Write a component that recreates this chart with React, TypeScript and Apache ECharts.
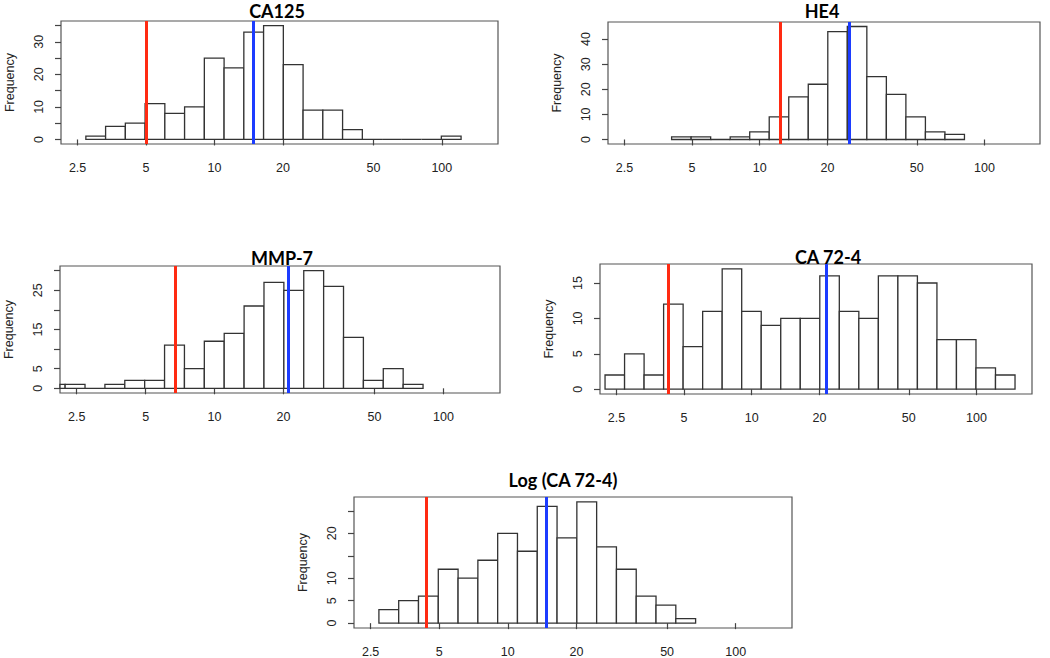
import React, { useEffect, useRef } from "react";
import * as echarts from "echarts";

// ---- data (bins are equal width in natural log: 0.2) ----
const xTickValues = [2.5, 5, 10, 20, 50, 100];
const binWidthLn = 0.2;

const ca125Title = "CA125";
const ca125FirstEdgeLn = 1.0;
const ca125Counts = [1, 4, 5, 11, 8, 10, 25, 22, 33, 35, 23, 9, 9, 3, 0, 0, 0, 0, 1];
const ca125Cutoffs = [5, 14.8];
const ca125YTicks = [0, 5, 10, 15, 20, 25, 30, 35];
const ca125YLabels = [0, 10, 20, 30];

const he4Title = "HE4";
const he4FirstEdgeLn = 1.4;
const he4Counts = [1, 1, 0, 1, 3, 9, 17, 22, 43, 45, 25, 18, 9, 3, 2];
const he4Cutoffs = [12.2, 25.1];
const he4YTicks = [0, 10, 20, 30, 40];
const he4YLabels = [0, 10, 20, 30, 40];

const mmp7Title = "MMP-7";
const mmp7FirstEdgeLn = 0.6;
const mmp7Counts = [1, 1, 0, 1, 2, 2, 11, 5, 12, 14, 21, 27, 25, 30, 26, 13, 2, 5, 1];
const mmp7Cutoffs = [6.7, 21.1];
const mmp7YTicks = [0, 5, 10, 15, 20, 25, 30];
const mmp7YLabels = [0, 5, 15, 25];

const ca724Title = "CA 72-4";
const ca724FirstEdgeLn = 0.8;
const ca724Counts = [2, 5, 2, 12, 6, 11, 17, 11, 9, 10, 10, 16, 11, 10, 16, 16, 15, 7, 7, 3, 2];
const ca724Cutoffs = [4.23, 21.5];
const ca724YTicks = [0, 5, 10, 15];
const ca724YLabels = [0, 5, 10, 15];

const logCa724Title = "Log (CA 72-4)";
const logCa724FirstEdgeLn = 1.0;
const logCa724Counts = [3, 5, 6, 12, 10, 14, 20, 16, 26, 19, 27, 17, 12, 6, 4, 1];
const logCa724Cutoffs = [4.37, 14.9];
const logCa724YTicks = [0, 5, 10, 15, 20, 25];
const logCa724YLabels = [0, 5, 10, 20];

const panels = [
  { title: ca125Title, first: ca125FirstEdgeLn, counts: ca125Counts, cut: ca125Cutoffs, yt: ca125YTicks, yl: ca125YLabels },
  { title: he4Title, first: he4FirstEdgeLn, counts: he4Counts, cut: he4Cutoffs, yt: he4YTicks, yl: he4YLabels },
  { title: mmp7Title, first: mmp7FirstEdgeLn, counts: mmp7Counts, cut: mmp7Cutoffs, yt: mmp7YTicks, yl: mmp7YLabels },
  { title: ca724Title, first: ca724FirstEdgeLn, counts: ca724Counts, cut: ca724Cutoffs, yt: ca724YTicks, yl: ca724YLabels },
  { title: logCa724Title, first: logCa724FirstEdgeLn, counts: logCa724Counts, cut: logCa724Cutoffs, yt: logCa724YTicks, yl: logCa724YLabels },
];

// ---- layout ----
const layout = [
  { left: 61, top: 21, width: 437, height: 123, tx: 277, ty: 2 },
  { left: 608, top: 22, width: 432, height: 122, tx: 822, ty: 2 },
  { left: 60, top: 266, width: 440, height: 127, tx: 282, ty: 249 },
  { left: 600, top: 264, width: 432, height: 130, tx: 828, ty: 248 },
  { left: 354, top: 497, width: 438, height: 133, tx: 563, ty: 471 },
];
const X_MIN = 0.325;
const X_MAX = 2.247;
const LN10 = Math.log(10);
const labelFont = "'Liberation Sans', Arial, sans-serif";

export default function App() {
  const ref = useRef<HTMLDivElement>(null);
  useEffect(() => {
    const chart = echarts.init(ref.current!, null, { renderer: "svg" });
    const grid: any[] = [];
    const xAxis: any[] = [];
    const yAxis: any[] = [];
    const series: any[] = [];
    const title: any[] = [];
    panels.forEach((p, i) => {
      const L = layout[i];
      grid.push({ left: L.left, top: L.top, width: L.width, height: L.height, show: true, borderColor: "#555", borderWidth: 1.2, backgroundColor: "transparent" });
      title.push({
        text: p.title, left: L.tx, top: L.ty, textAlign: "center", padding: 0,
        textStyle: { fontFamily: "Lato, 'Open Sans', sans-serif", fontWeight: "bold", fontSize: 18, color: "#000" },
      });
      const ticks = xTickValues.map((v) => Math.log10(v));
      xAxis.push({
        type: "value", gridIndex: i, min: X_MIN, max: X_MAX,
        axisLine: { show: false },
        splitLine: { show: false },
        axisTick: { show: true, customValues: ticks, length: 6, lineStyle: { color: "#444", width: 1.2 } },
        axisLabel: {
          customValues: ticks, margin: 17, fontSize: 12.5, fontFamily: labelFont, color: "#222",
          formatter: (v: number) => String(Math.round(Math.pow(10, v) * 10) / 10),
        },
      });
      const maxC = Math.max(...p.counts);
      yAxis.push({
        type: "value", gridIndex: i, min: -0.04 * maxC, max: 1.04 * maxC,
        name: "Frequency", nameLocation: "middle", nameGap: 45, nameRotate: 90,
        nameTextStyle: { fontSize: 12.5, fontFamily: labelFont, color: "#222" },
        axisLine: { show: false },
        splitLine: { show: false },
        axisTick: { show: true, customValues: p.yt, length: 6, lineStyle: { color: "#444", width: 1.2 } },
        axisLabel: { customValues: p.yl, rotate: 90, margin: 16, fontSize: 12.5, fontFamily: labelFont, color: "#222" },
      });
      const data = p.counts.map((c, k) => {
        const lo = (p.first + k * binWidthLn) / LN10;
        const hi = (p.first + (k + 1) * binWidthLn) / LN10;
        return [lo, hi, c];
      });
      series.push({
        type: "custom", xAxisIndex: i, yAxisIndex: i, data, silent: true,
        encode: { x: [0, 1], y: 2 },
        renderItem: (params: any, api: any) => {
          const lo = api.value(0), hi = api.value(1), c = api.value(2);
          const p0 = api.coord([lo, 0]);
          const p1 = api.coord([hi, c]);
          const cs = params.coordSys;
          const rect = echarts.graphic.clipRectByRect(
            { x: p0[0], y: p1[1], width: p1[0] - p0[0], height: p0[1] - p1[1] },
            { x: cs.x, y: cs.y, width: cs.width, height: cs.height }
          );
          if (!rect) return null;
          return { type: "rect", shape: rect, style: { fill: "#fff", stroke: "#333", lineWidth: 1.3 } };
        },
        markLine: {
          silent: true, symbol: "none", label: { show: false },
          data: [
            { xAxis: Math.log10(p.cut[0]), lineStyle: { color: "#ff2a12", width: 3, type: "solid" } },
            { xAxis: Math.log10(p.cut[1]), lineStyle: { color: "#1c3cff", width: 3, type: "solid" } },
          ],
        },
      });
    });
    chart.setOption({ animation: false, backgroundColor: "#fff", title, grid, xAxis, yAxis, series });
    return () => chart.dispose();
  }, []);
  return <div ref={ref} style={{ position: "absolute", left: 0, top: 0, width: 1050, height: 658 }} />;
}
